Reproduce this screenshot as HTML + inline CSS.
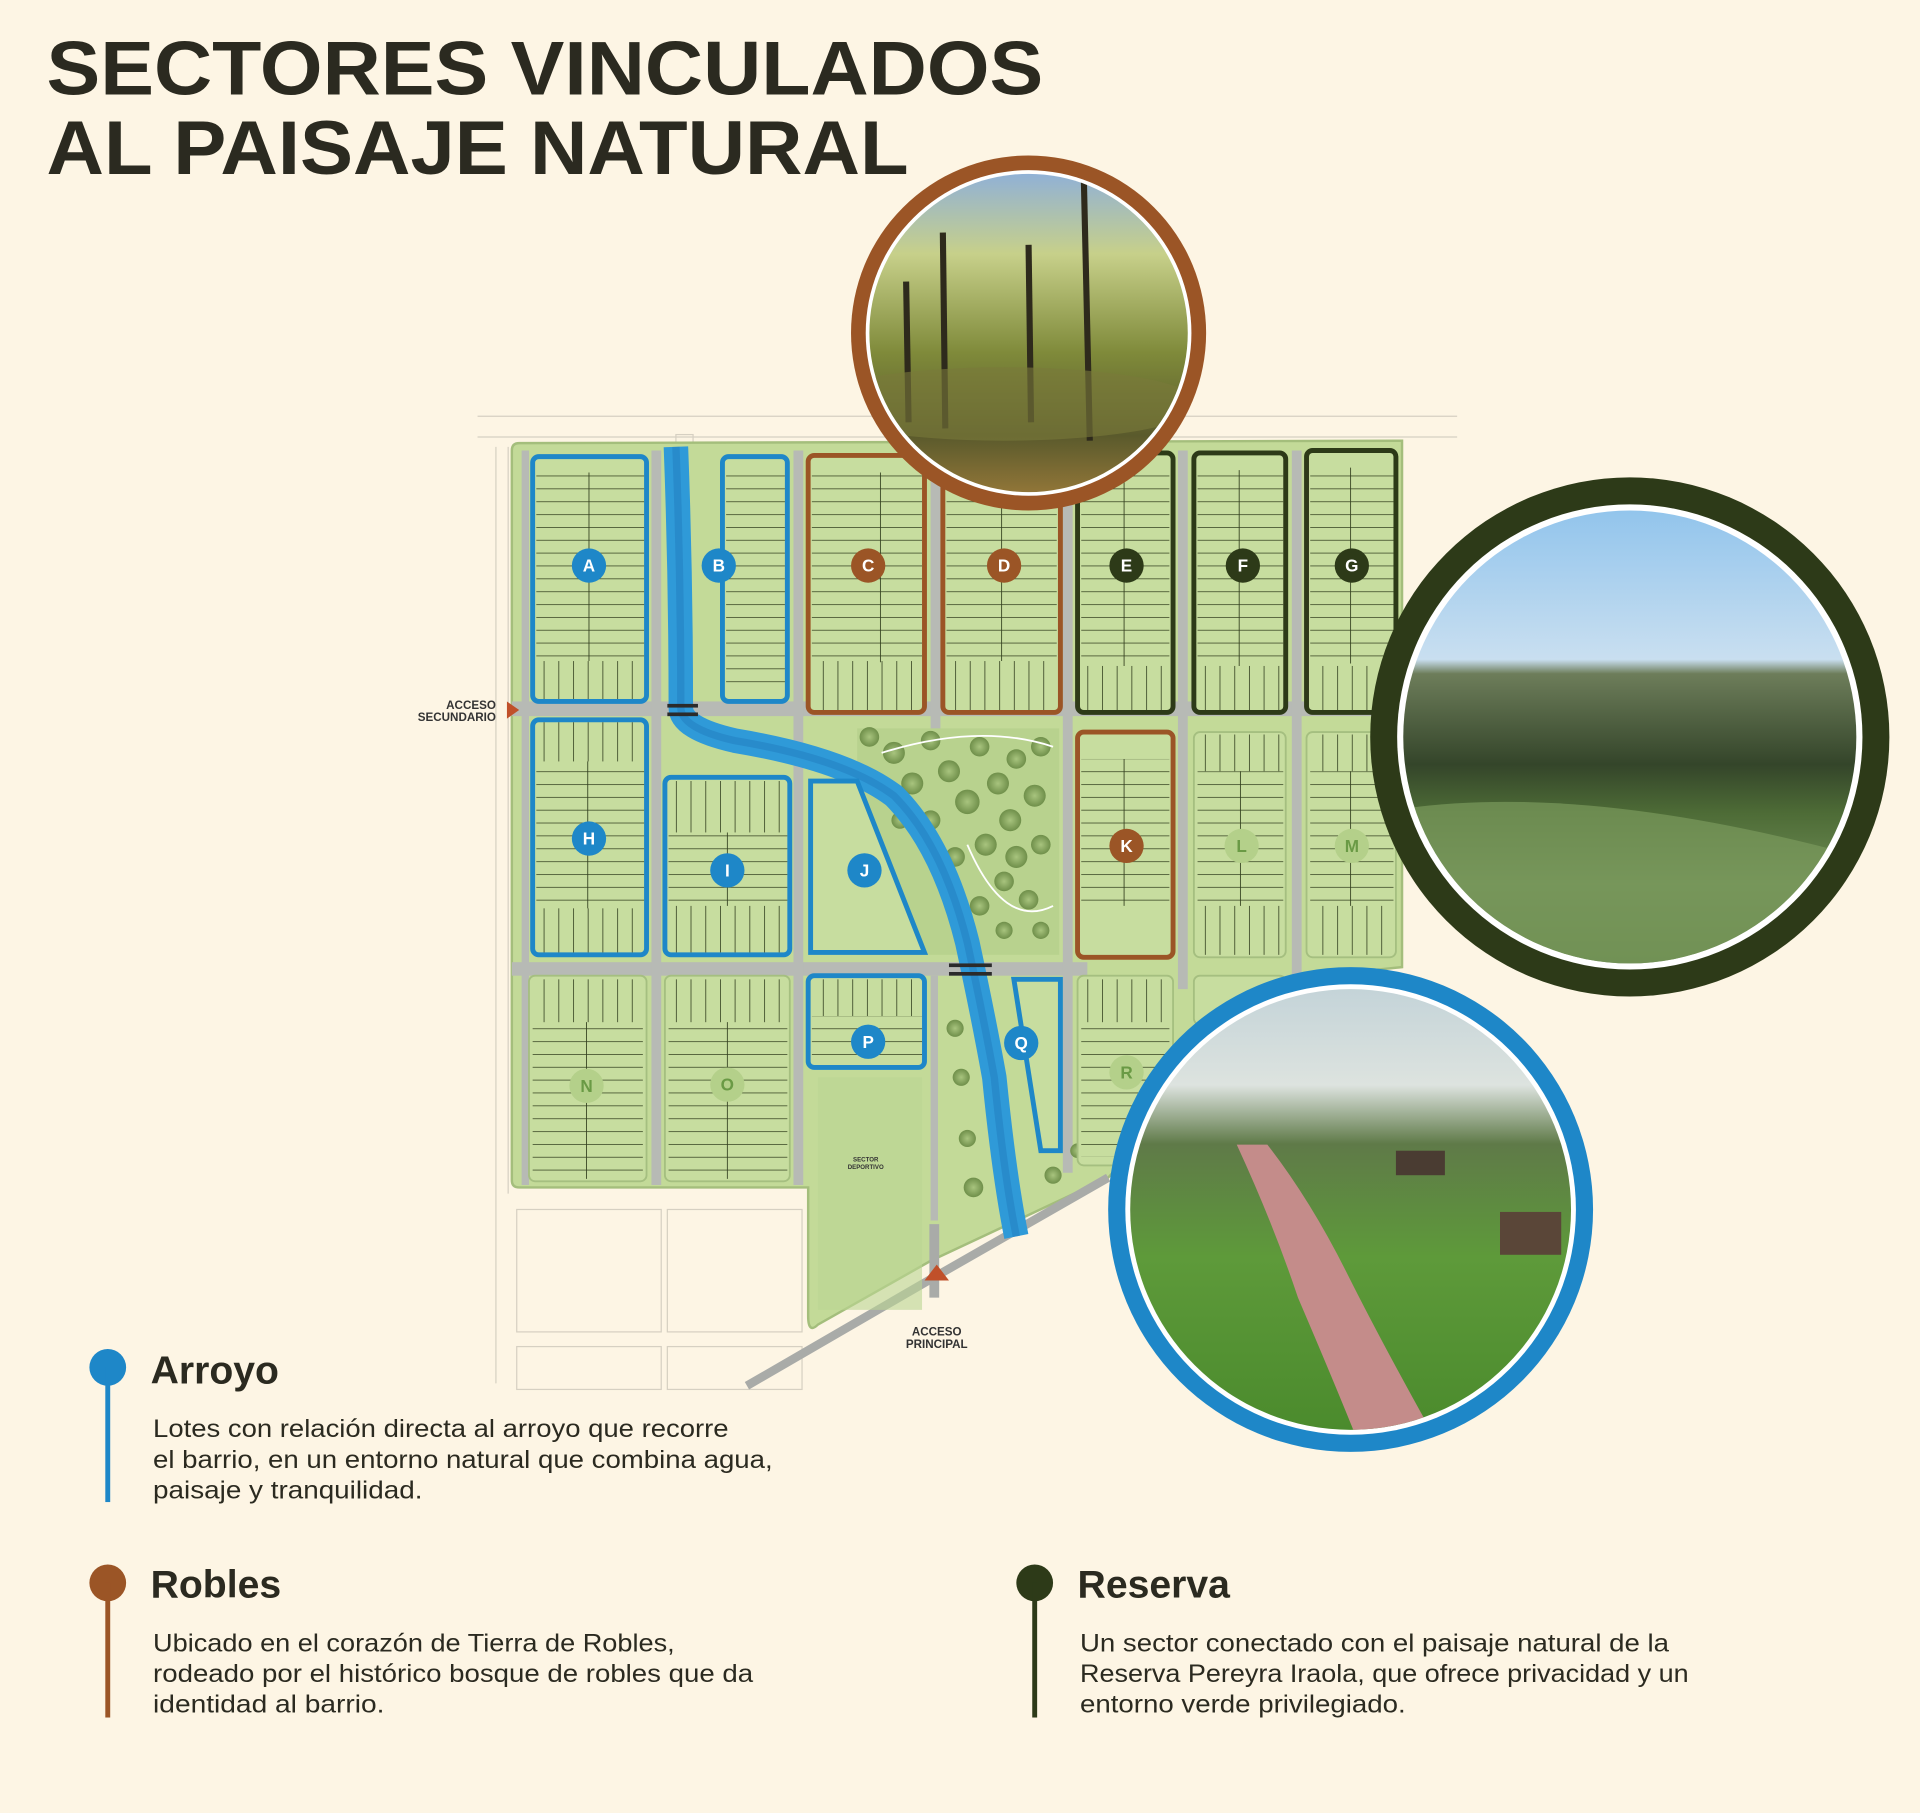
<!DOCTYPE html>
<html><head><meta charset="utf-8"><style>
html,body{margin:0;padding:0;background:#fdf5e4;}
svg{display:block;}
</style></head><body>
<svg width="1920" height="1813" viewBox="0 0 1568 1481" preserveAspectRatio="none" xmlns="http://www.w3.org/2000/svg" font-family="Liberation Sans, sans-serif">
<defs>
<pattern id="lots" width="200" height="10.5" patternUnits="userSpaceOnUse"><line x1="0" y1="0.3" x2="200" y2="0.3" stroke="#33401f" stroke-width="0.7"/></pattern>
<pattern id="vlots" width="12" height="200" patternUnits="userSpaceOnUse"><line x1="0.3" y1="0" x2="0.3" y2="200" stroke="#33401f" stroke-width="0.7"/></pattern>
<radialGradient id="tree" cx="50%" cy="50%" r="50%"><stop offset="0" stop-color="#a8c47e"/><stop offset="1" stop-color="#6f8f4a"/></radialGradient>
<linearGradient id="g1" x1="0" y1="0" x2="0" y2="1"><stop offset="0" stop-color="#8fb0d8"/><stop offset="0.25" stop-color="#c7d08a"/><stop offset="0.55" stop-color="#7f8a3a"/><stop offset="0.8" stop-color="#5a5a2c"/><stop offset="1" stop-color="#9a7a3a"/></linearGradient>
<linearGradient id="g2" x1="0" y1="0" x2="0" y2="1"><stop offset="0" stop-color="#8fc3ec"/><stop offset="0.33" stop-color="#c9dff0"/><stop offset="0.36" stop-color="#6d7d5a"/><stop offset="0.55" stop-color="#34452a"/><stop offset="0.65" stop-color="#4d6b36"/><stop offset="0.8" stop-color="#6e8d55"/><stop offset="1" stop-color="#587a3f"/></linearGradient>
<linearGradient id="g3" x1="0" y1="0" x2="0" y2="1"><stop offset="0" stop-color="#c3d3d8"/><stop offset="0.22" stop-color="#dde3df"/><stop offset="0.35" stop-color="#5f7a48"/><stop offset="0.6" stop-color="#5e9a3a"/><stop offset="1" stop-color="#4a8a2c"/></linearGradient>
<clipPath id="c1"><circle cx="840" cy="272" r="130"/></clipPath>
<clipPath id="c2"><circle cx="1331" cy="602" r="185"/></clipPath>
<clipPath id="c3"><circle cx="1103" cy="988" r="180"/></clipPath>
</defs>
<rect width="1568" height="1481" fill="#fdf5e4"/>
<g fill="#2b2a20" font-weight="bold" font-size="62">
<text x="38" y="77" textLength="814" lengthAdjust="spacingAndGlyphs">SECTORES VINCULADOS</text>
<text x="38" y="142" textLength="704" lengthAdjust="spacingAndGlyphs">AL PAISAJE NATURAL</text>
</g>
<g stroke="#d6d0c2" stroke-width="1" fill="none">
<path d="M390 340 H1190 M390 357 H1190 M405 365 V1130 M415 365 V975"/>
<rect x="422" y="988" width="118" height="100"/><rect x="545" y="988" width="110" height="100"/>
<rect x="422" y="1100" width="118" height="35"/><rect x="545" y="1100" width="110" height="35"/>
<rect x="552" y="355" width="14" height="12"/>
</g>
<path d="M418 368 Q418 362 424 362 L1145 360 L1145 790 L1050 800 L905 962 L760 1030 L668 1082 Q660 1090 660 1075 L660 970 L424 970 Q418 970 418 964 Z" fill="#c3da98" stroke="#a4be7c" stroke-width="2"/>
<path d="M610 1132 L760 1045 L905 962" stroke="#a9aba8" stroke-width="7" fill="none"/>
<path d="M763 1000 V1060" stroke="#a9aba8" stroke-width="8"/>
<g fill="#b7bab5">
<rect x="418" y="573" width="727" height="12"/>
<rect x="418" y="786" width="470" height="11"/>
<rect x="426" y="368" width="6" height="600"/>
<rect x="532" y="368" width="8" height="600"/>
<rect x="648" y="368" width="8" height="600"/>
<rect x="760" y="368" width="8" height="230"/>
<rect x="868" y="368" width="8" height="590"/>
<rect x="962" y="368" width="8" height="440"/>
<rect x="1055" y="368" width="8" height="430"/>
<rect x="760" y="797" width="6" height="200"/>
</g>
<rect x="700" y="595" width="165" height="185" fill="#b8d28e"/>
<g fill="url(#tree)">
<circle cx="710" cy="602" r="8"/><circle cx="730" cy="615" r="9"/><circle cx="745" cy="640" r="9"/><circle cx="760" cy="605" r="8"/><circle cx="775" cy="630" r="9"/><circle cx="790" cy="655" r="10"/><circle cx="800" cy="610" r="8"/><circle cx="815" cy="640" r="9"/><circle cx="830" cy="620" r="8"/><circle cx="850" cy="610" r="8"/><circle cx="845" cy="650" r="9"/><circle cx="825" cy="670" r="9"/><circle cx="805" cy="690" r="9"/><circle cx="830" cy="700" r="9"/><circle cx="850" cy="690" r="8"/><circle cx="820" cy="720" r="8"/><circle cx="840" cy="735" r="8"/><circle cx="800" cy="740" r="8"/><circle cx="760" cy="670" r="8"/><circle cx="780" cy="700" r="8"/><circle cx="735" cy="670" r="7"/><circle cx="850" cy="760" r="7"/><circle cx="820" cy="760" r="7"/>
<circle cx="780" cy="840" r="7"/><circle cx="785" cy="880" r="7"/><circle cx="790" cy="930" r="7"/><circle cx="795" cy="970" r="8"/><circle cx="855" cy="870" r="7"/><circle cx="855" cy="920" r="8"/><circle cx="860" cy="960" r="7"/><circle cx="880" cy="940" r="6"/>
</g>
<path d="M720 615 Q800 590 860 610 M790 690 Q820 760 860 740" stroke="#fff" stroke-width="1.5" fill="none"/>
<path d="M552 365 Q556 470 556 578 Q556 595 600 605 Q690 620 730 650 Q770 690 790 770 Q803 830 812 880 Q820 960 830 1010" stroke="#2f9ad8" stroke-width="20" fill="none"/>
<path d="M552 365 Q556 470 556 578 Q556 595 600 605 Q690 620 730 650 Q770 690 790 770 Q803 830 812 880 Q820 960 830 1010" stroke="#1d6fb4" stroke-width="6" fill="none" opacity="0.35"/>
<g fill="#2b2b2b"><rect x="545" y="575" width="25" height="3"/><rect x="545" y="582" width="25" height="3"/><rect x="775" y="787" width="35" height="3"/><rect x="775" y="794" width="35" height="3"/></g>
<rect x="668" y="880" width="85" height="190" fill="#bbd592" opacity="0.6"/>
<text x="707" y="949" font-size="5" font-weight="bold" fill="#333" text-anchor="middle">SECTOR</text>
<text x="707" y="955" font-size="5" font-weight="bold" fill="#333" text-anchor="middle">DEPORTIVO</text>
<g stroke-width="4">
<g fill="#c7dd9f">
<rect x="435" y="373" width="93" height="200" rx="5" stroke="#1e87c8"/>
<rect x="590" y="373" width="53" height="200" rx="5" stroke="#1e87c8"/>
<rect x="660" y="372" width="95" height="210" rx="5" stroke="#9b5526"/>
<rect x="770" y="380" width="96" height="202" rx="5" stroke="#9b5526"/>
<rect x="880" y="370" width="78" height="212" rx="5" stroke="#2d3a18"/>
<rect x="975" y="370" width="75" height="212" rx="5" stroke="#2d3a18"/>
<rect x="1067" y="368" width="73" height="214" rx="5" stroke="#2d3a18"/>
<rect x="435" y="588" width="93" height="192" rx="5" stroke="#1e87c8"/>
<rect x="543" y="635" width="102" height="145" rx="5" stroke="#1e87c8"/>
<path d="M662 638 L700 638 L755 778 L662 778 Z" stroke="#1e87c8"/>
<rect x="880" y="598" width="78" height="184" rx="5" stroke="#9b5526"/>
<rect x="975" y="598" width="75" height="184" rx="5" stroke="#a5bf80" stroke-width="1.5"/>
<rect x="1067" y="598" width="73" height="184" rx="5" stroke="#a5bf80" stroke-width="1.5"/>
<rect x="432" y="797" width="96" height="168" rx="5" stroke="#a5bf80" stroke-width="1.5"/>
<rect x="543" y="797" width="102" height="168" rx="5" stroke="#a5bf80" stroke-width="1.5"/>
<rect x="660" y="797" width="95" height="75" rx="5" stroke="#1e87c8"/>
<path d="M828 800 L866 800 L866 940 L850 940 Z" stroke="#1e87c8"/>
<rect x="880" y="797" width="78" height="155" rx="5" stroke="#a5bf80" stroke-width="1.5"/>
<rect x="975" y="797" width="75" height="40" rx="5" stroke="#a5bf80" stroke-width="1.5"/>
</g>
<g fill="url(#lots)" stroke="none">
<rect x="438" y="386" width="88" height="155"/><rect x="593" y="386" width="48" height="175"/>
<rect x="663" y="386" width="90" height="155"/><rect x="773" y="390" width="90" height="150"/>
<rect x="883" y="384" width="72" height="160"/><rect x="978" y="384" width="70" height="160"/><rect x="1070" y="382" width="68" height="160"/>
<rect x="438" y="622" width="88" height="120"/><rect x="546" y="680" width="97" height="60"/>
<rect x="883" y="620" width="72" height="120"/><rect x="978" y="630" width="70" height="110"/><rect x="1070" y="630" width="68" height="110"/>
<rect x="435" y="835" width="90" height="128"/><rect x="546" y="835" width="97" height="128"/><rect x="883" y="835" width="72" height="110"/><rect x="663" y="830" width="90" height="40"/>
</g>
<g fill="url(#vlots)" stroke="none">
<rect x="438" y="540" width="88" height="31"/><rect x="663" y="540" width="90" height="40"/><rect x="773" y="540" width="90" height="40"/>
<rect x="883" y="544" width="72" height="36"/><rect x="978" y="544" width="70" height="36"/><rect x="1070" y="544" width="68" height="36"/>
<rect x="438" y="590" width="88" height="32"/><rect x="438" y="742" width="88" height="36"/><rect x="546" y="638" width="97" height="42"/><rect x="546" y="740" width="97" height="38"/>
<rect x="978" y="600" width="70" height="30"/><rect x="1070" y="600" width="68" height="30"/><rect x="978" y="740" width="70" height="40"/><rect x="1070" y="740" width="68" height="40"/>
<rect x="435" y="800" width="90" height="35"/><rect x="546" y="800" width="97" height="35"/><rect x="663" y="800" width="90" height="30"/><rect x="883" y="800" width="72" height="35"/>
</g>
</g>
<g stroke="#33401f" stroke-width="0.7">
<path d="M481 386 V540 M480 622 V742 M719 386 V541 M818 390 V540 M918 384 V544 M1012 384 V544 M1103 382 V542 M479 835 V963 M594 835 V963 M918 620 V740 M1013 630 V740 M1103 630 V740 M594 680 V740"/>
</g>
<g font-size="14" font-weight="bold" text-anchor="middle">
<g fill="#1e87c8"><circle cx="481" cy="462" r="14"/><circle cx="587" cy="462" r="14"/><circle cx="481" cy="685" r="14"/><circle cx="594" cy="711" r="14"/><circle cx="706" cy="711" r="14"/><circle cx="709" cy="851" r="14"/><circle cx="834" cy="852" r="14"/></g>
<g fill="#9b5526"><circle cx="709" cy="462" r="14"/><circle cx="820" cy="462" r="14"/><circle cx="920" cy="691" r="14"/></g>
<g fill="#2d3a18"><circle cx="920" cy="462" r="14"/><circle cx="1015" cy="462" r="14"/><circle cx="1104" cy="462" r="14"/></g>
<g fill="#b4d08a"><circle cx="1014" cy="691" r="14"/><circle cx="1104" cy="691" r="14"/><circle cx="479" cy="887" r="14"/><circle cx="594" cy="886" r="14"/><circle cx="920" cy="876" r="14"/></g>
<g fill="#fff"><text x="481" y="467">A</text><text x="587" y="467">B</text><text x="709" y="467">C</text><text x="820" y="467">D</text><text x="920" y="467">E</text><text x="1015" y="467">F</text><text x="1104" y="467">G</text><text x="481" y="690">H</text><text x="594" y="716">I</text><text x="706" y="716">J</text><text x="920" y="696">K</text><text x="709" y="856">P</text><text x="834" y="857">Q</text></g>
<g fill="#6a9a45"><text x="1014" y="696">L</text><text x="1104" y="696">M</text><text x="479" y="892">N</text><text x="594" y="891">O</text><text x="920" y="881">R</text></g>
</g>
<polygon points="414,573 424,580 414,587" fill="#c0502a"/>
<text x="405" y="579" font-size="9.5" font-weight="bold" fill="#333" text-anchor="end">ACCESO</text>
<text x="405" y="589" font-size="9.5" font-weight="bold" fill="#333" text-anchor="end">SECUNDARIO</text>
<polygon points="765,1033 775,1046 755,1046" fill="#c0502a"/>
<text x="765" y="1091" font-size="9.5" font-weight="bold" fill="#333" text-anchor="middle">ACCESO</text>
<text x="765" y="1101" font-size="9.5" font-weight="bold" fill="#333" text-anchor="middle">PRINCIPAL</text>
<circle cx="840" cy="272" r="145" fill="#9b5526"/>
<circle cx="840" cy="272" r="133" fill="#fff"/>
<g clip-path="url(#c1)">
<rect x="700" y="140" width="280" height="270" fill="url(#g1)"/>
<g stroke="#2e2a1c" stroke-width="5"><line x1="885" y1="140" x2="890" y2="360"/><line x1="770" y1="190" x2="772" y2="350"/><line x1="840" y1="200" x2="842" y2="345"/><line x1="740" y1="230" x2="742" y2="345"/></g>
<ellipse cx="820" cy="330" rx="160" ry="30" fill="#7a7a3a" opacity="0.6"/>
</g>
<circle cx="1331" cy="602" r="212" fill="#2d3a18"/>
<circle cx="1331" cy="602" r="190" fill="#fff"/>
<g clip-path="url(#c2)"><rect x="1140" y="410" width="390" height="390" fill="url(#g2)"/>
<path d="M1150 660 Q1300 640 1520 700 L1520 800 L1150 800 Z" fill="#7b9a5c" opacity="0.7"/></g>
<circle cx="1103" cy="988" r="198" fill="#1e87c8"/>
<circle cx="1103" cy="988" r="184" fill="#fff"/>
<g clip-path="url(#c3)"><rect x="920" y="805" width="370" height="370" fill="url(#g3)"/>
<path d="M1010 935 Q1040 1000 1060 1060 Q1090 1130 1110 1180 L1175 1180 Q1130 1100 1100 1040 Q1070 980 1035 935 Z" fill="#c48c8a"/>
<rect x="1140" y="940" width="40" height="20" fill="#4a3c32"/><rect x="1225" y="990" width="50" height="35" fill="#5a4638"/></g>
<g fill="#2b2a20">
<circle cx="88" cy="1117" r="15" fill="#1e87c8"/><rect x="86" y="1117" width="4" height="110" fill="#1e87c8"/>
<text x="123" y="1130" font-size="32" font-weight="bold">Arroyo</text>
<g font-size="20.5" lengthAdjust="spacingAndGlyphs">
<text x="125" y="1174" textLength="470" lengthAdjust="spacingAndGlyphs">Lotes con relación directa al arroyo que recorre</text>
<text x="125" y="1199" textLength="506" lengthAdjust="spacingAndGlyphs">el barrio, en un entorno natural que combina agua,</text>
<text x="125" y="1224" textLength="220" lengthAdjust="spacingAndGlyphs">paisaje y tranquilidad.</text></g>
<circle cx="88" cy="1293" r="15" fill="#9b5526"/><rect x="86" y="1293" width="4" height="110" fill="#9b5526"/>
<text x="123" y="1305" font-size="32" font-weight="bold">Robles</text>
<g font-size="20.5">
<text x="125" y="1349" textLength="426" lengthAdjust="spacingAndGlyphs">Ubicado en el corazón de Tierra de Robles,</text>
<text x="125" y="1374" textLength="490" lengthAdjust="spacingAndGlyphs">rodeado por el histórico bosque de robles que da</text>
<text x="125" y="1399" textLength="189" lengthAdjust="spacingAndGlyphs">identidad al barrio.</text></g>
<circle cx="845" cy="1293" r="15" fill="#2d3a18"/><rect x="843" y="1293" width="4" height="110" fill="#2d3a18"/>
<text x="880" y="1305" font-size="32" font-weight="bold">Reserva</text>
<g font-size="20.5">
<text x="882" y="1349" textLength="481" lengthAdjust="spacingAndGlyphs">Un sector conectado con el paisaje natural de la</text>
<text x="882" y="1374" textLength="497" lengthAdjust="spacingAndGlyphs">Reserva Pereyra Iraola, que ofrece privacidad y un</text>
<text x="882" y="1399" textLength="266" lengthAdjust="spacingAndGlyphs">entorno verde privilegiado.</text></g>
</g>
</svg>
</body></html>
